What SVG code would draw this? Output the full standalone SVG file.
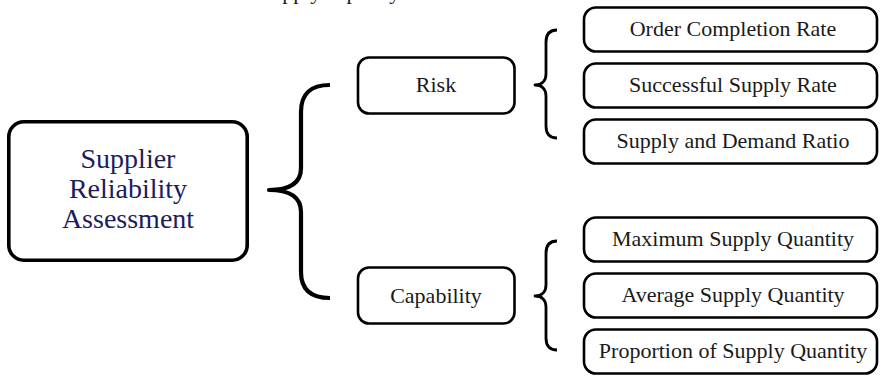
<svg xmlns="http://www.w3.org/2000/svg" width="880" height="378" viewBox="0 0 880 378">
<style>
.bg{fill:#ffffff}
.box{fill:#ffffff;stroke:#000000;stroke-width:2.6}
.main{fill:#ffffff;stroke:#000000;stroke-width:3.6}
.brace{fill:none;stroke:#000000;stroke-linecap:butt;stroke-linejoin:round}
.t{font-family:"Liberation Serif","Times New Roman",serif;font-size:22px;fill:#1a1a1a;text-anchor:middle}
.tm{font-family:"Liberation Serif","Times New Roman",serif;font-size:28px;fill:#1c1c5e;text-anchor:middle}
</style>
<rect class="bg" x="0" y="0" width="880" height="378"/>
<text x="259" y="-1" font-family="Liberation Serif, Times New Roman, serif" font-size="22" fill="#1a1a1a">Supply capacity</text>

<g id="connectors">
  <path class="brace" stroke-width="4.2" d="M330,85 C311,85 301,93 301,112 L301,168 C301,183 290,190 269,190 C290,190 301,197 301,212 L301,272 C301,290 311,298 330,298"/>
  <path class="brace" stroke-width="2.8" d="M557,30 C550,30 546,34 546,42 L546,74 C546,81 542,85 535,85 C542,85 546,89 546,96 L546,126 C546,134 550,138 557,138"/>
  <path class="brace" stroke-width="2.8" d="M557,241 C550,241 546,245 546,253 L546,285 C546,292 542,296 535,296 C542,296 546,300 546,307 L546,338 C546,346 550,350 557,350"/>
</g>

<g id="node-main">
  <rect class="main" x="8.8" y="121.8" width="238.4" height="138.4" rx="15"/>
  <text class="tm" x="128" y="168">Supplier</text>
  <text class="tm" x="128" y="198">Reliability</text>
  <text class="tm" x="128" y="228">Assessment</text>
</g>

<g id="node-risk">
  <rect class="box" x="358" y="57.5" width="156.5" height="56" rx="11"/>
  <text class="t" x="436" y="92">Risk</text>
</g>
<g id="node-capability">
  <rect class="box" x="358" y="267.5" width="156.5" height="56" rx="11"/>
  <text class="t" x="436" y="303">Capability</text>
</g>

<g id="node-order-completion-rate">
  <rect class="box" x="584" y="7.5" width="293" height="44" rx="12"/>
  <text class="t" x="733" y="36">Order Completion Rate</text>
</g>
<g id="node-successful-supply-rate">
  <rect class="box" x="584" y="63.5" width="293" height="44" rx="12"/>
  <text class="t" x="733" y="92">Successful Supply Rate</text>
</g>
<g id="node-supply-demand-ratio">
  <rect class="box" x="584" y="119.5" width="293" height="44" rx="12"/>
  <text class="t" x="733" y="148">Supply and Demand Ratio</text>
</g>

<g id="node-maximum-supply-quantity">
  <rect class="box" x="584" y="217.5" width="293" height="44" rx="12"/>
  <text class="t" x="733" y="246">Maximum Supply Quantity</text>
</g>
<g id="node-average-supply-quantity">
  <rect class="box" x="584" y="273.5" width="293" height="44" rx="12"/>
  <text class="t" x="733" y="302">Average Supply Quantity</text>
</g>
<g id="node-proportion-supply-quantity">
  <rect class="box" x="584" y="329.5" width="293" height="44" rx="12"/>
  <text class="t" x="733" y="358">Proportion of Supply Quantity</text>
</g>
</svg>
